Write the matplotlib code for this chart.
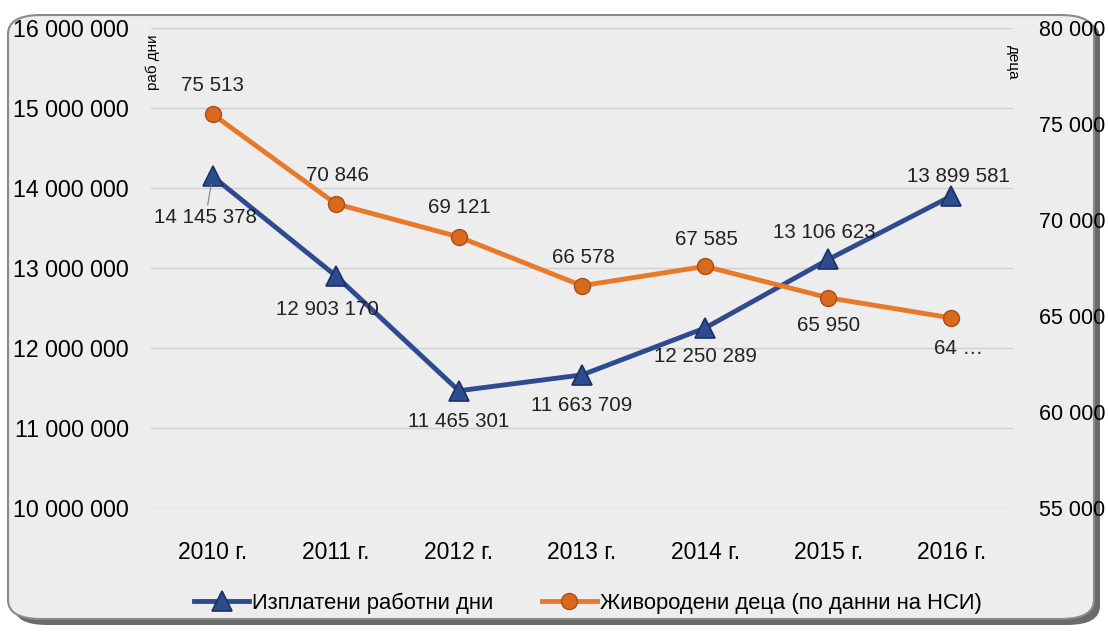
import numpy as np
import matplotlib.pyplot as plt
from matplotlib.patches import FancyBboxPatch

plt.rcParams['font.family'] = ['Liberation Sans', 'DejaVu Sans']

# chart data
years = ['2010 г.', '2011 г.', '2012 г.', '2013 г.', '2014 г.', '2015 г.', '2016 г.']
work_days = [14145378, 12903170, 11465301, 11663709, 12250289, 13106623, 13899581]
births = [75513, 70846, 69121, 66578, 67585, 65950, 64900]
work_labels = ['14 145 378', '12 903 170', '11 465 301', '11 663 709',
               '12 250 289', '13 106 623', '13 899 581']
birth_labels = ['75 513', '70 846', '69 121', '66 578', '67 585', '65 950', '64 …']

# label offsets in pixels (dx, dy)
work_off = [(-7, -41), (-8, -34), (0, -31), (0, -31), (0, -29), (-4, 27), (7, 20)]
birth_off = [(0, 29), (2, 28), (1, 29), (1, 28), (1, 27), (0, -28), (7, -31)]

blue = '#2E4B8F'
orange = '#E8792B'

W, H = 1108, 633
fig = plt.figure(figsize=(W / 100, H / 100), dpi=100)
fig.patch.set_facecolor('white')

# rounded frame with shadow
shadow = FancyBboxPatch((14 / W, 8 / H), 1086 / W, 606 / H,
                        boxstyle='round,pad=0,rounding_size=0.03',
                        transform=fig.transFigure, facecolor='#6a6a6a',
                        edgecolor='none', zorder=-2)
frame = FancyBboxPatch((8 / W, 14 / H), 1086 / W, 604 / H,
                       boxstyle='round,pad=0,rounding_size=0.03',
                       transform=fig.transFigure, facecolor='#ededed',
                       edgecolor='#8a8a8a', linewidth=1.5, zorder=-1)
fig.patches.extend([shadow, frame])

ax = fig.add_axes([151 / W, 1 - 508 / H, 862 / W, 480 / H])
ax.set_facecolor('none')
ax2 = ax.twinx()

x = np.arange(len(years))

ax.plot(x, work_days, color=blue, lw=3.5, marker='^', ms=14,
        mfc=blue, mec='#1c3163', mew=1.2, zorder=3, label='Изплатени работни дни')
ax2.plot(x, births, color=orange, lw=3.5, marker='o', ms=11.5,
         mfc='#d8691d', mec='#a94e17', zorder=3,
         label='Живородени деца (по данни на НСИ)')

ax.set_xlim(-0.5, len(years) - 0.5)
ax.set_ylim(10000000, 16000000)
ax2.set_ylim(55000, 80000)
ax.set_yticks(np.arange(10000000, 16000001, 1000000))
ax2.set_yticks(np.arange(55000, 80001, 5000))

fmt = lambda v, p: f'{v:,.0f}'.replace(',', ' ')
ax.yaxis.set_major_formatter(plt.FuncFormatter(fmt))
ax2.yaxis.set_major_formatter(plt.FuncFormatter(fmt))

ax.set_xticks(x)
ax.set_xticklabels(years, fontsize=16.5)
ax.tick_params(axis='x', length=0, pad=24)
ax.tick_params(axis='y', length=0, pad=16, labelsize=16.7)
ax2.tick_params(axis='y', length=0, pad=19, labelsize=15.5)

ax.grid(axis='y', color='#cfcfcf', lw=1)
for a in (ax, ax2):
    for s in a.spines.values():
        s.set_visible(False)

for i in range(len(years)):
    dx, dy = work_off[i]
    props = None
    if i == 0:
        props = dict(arrowstyle='-', color='#808080', lw=0.8,
                     shrinkA=0, shrinkB=6)
    ax.annotate(work_labels[i], (x[i], work_days[i]), xytext=(dx, dy),
                textcoords='offset pixels', ha='center', va='center',
                fontsize=14.8, color='#222222', arrowprops=props, zorder=4)
    dx, dy = birth_off[i]
    ax2.annotate(birth_labels[i], (x[i], births[i]), xytext=(dx, dy),
                 textcoords='offset pixels', ha='center', va='center',
                 fontsize=14.8, color='#222222', zorder=4)

fig.text(153 / W, 1 - 62 / H, 'раб дни', rotation=90, ha='center',
         va='center', fontsize=11)
fig.text(1013 / W, 1 - 62 / H, 'деца', rotation=270, ha='center',
         va='center', fontsize=11)

h1, l1 = ax.get_legend_handles_labels()
h2, l2 = ax2.get_legend_handles_labels()
fig.legend(h1 + h2, l1 + l2, loc='center', bbox_to_anchor=(588 / W, 1 - 603 / H),
           ncol=2, frameon=False, fontsize=15.8, handlelength=2.5,
           columnspacing=2.2, handletextpad=0.15)

fig.savefig('out.png', dpi=100)
